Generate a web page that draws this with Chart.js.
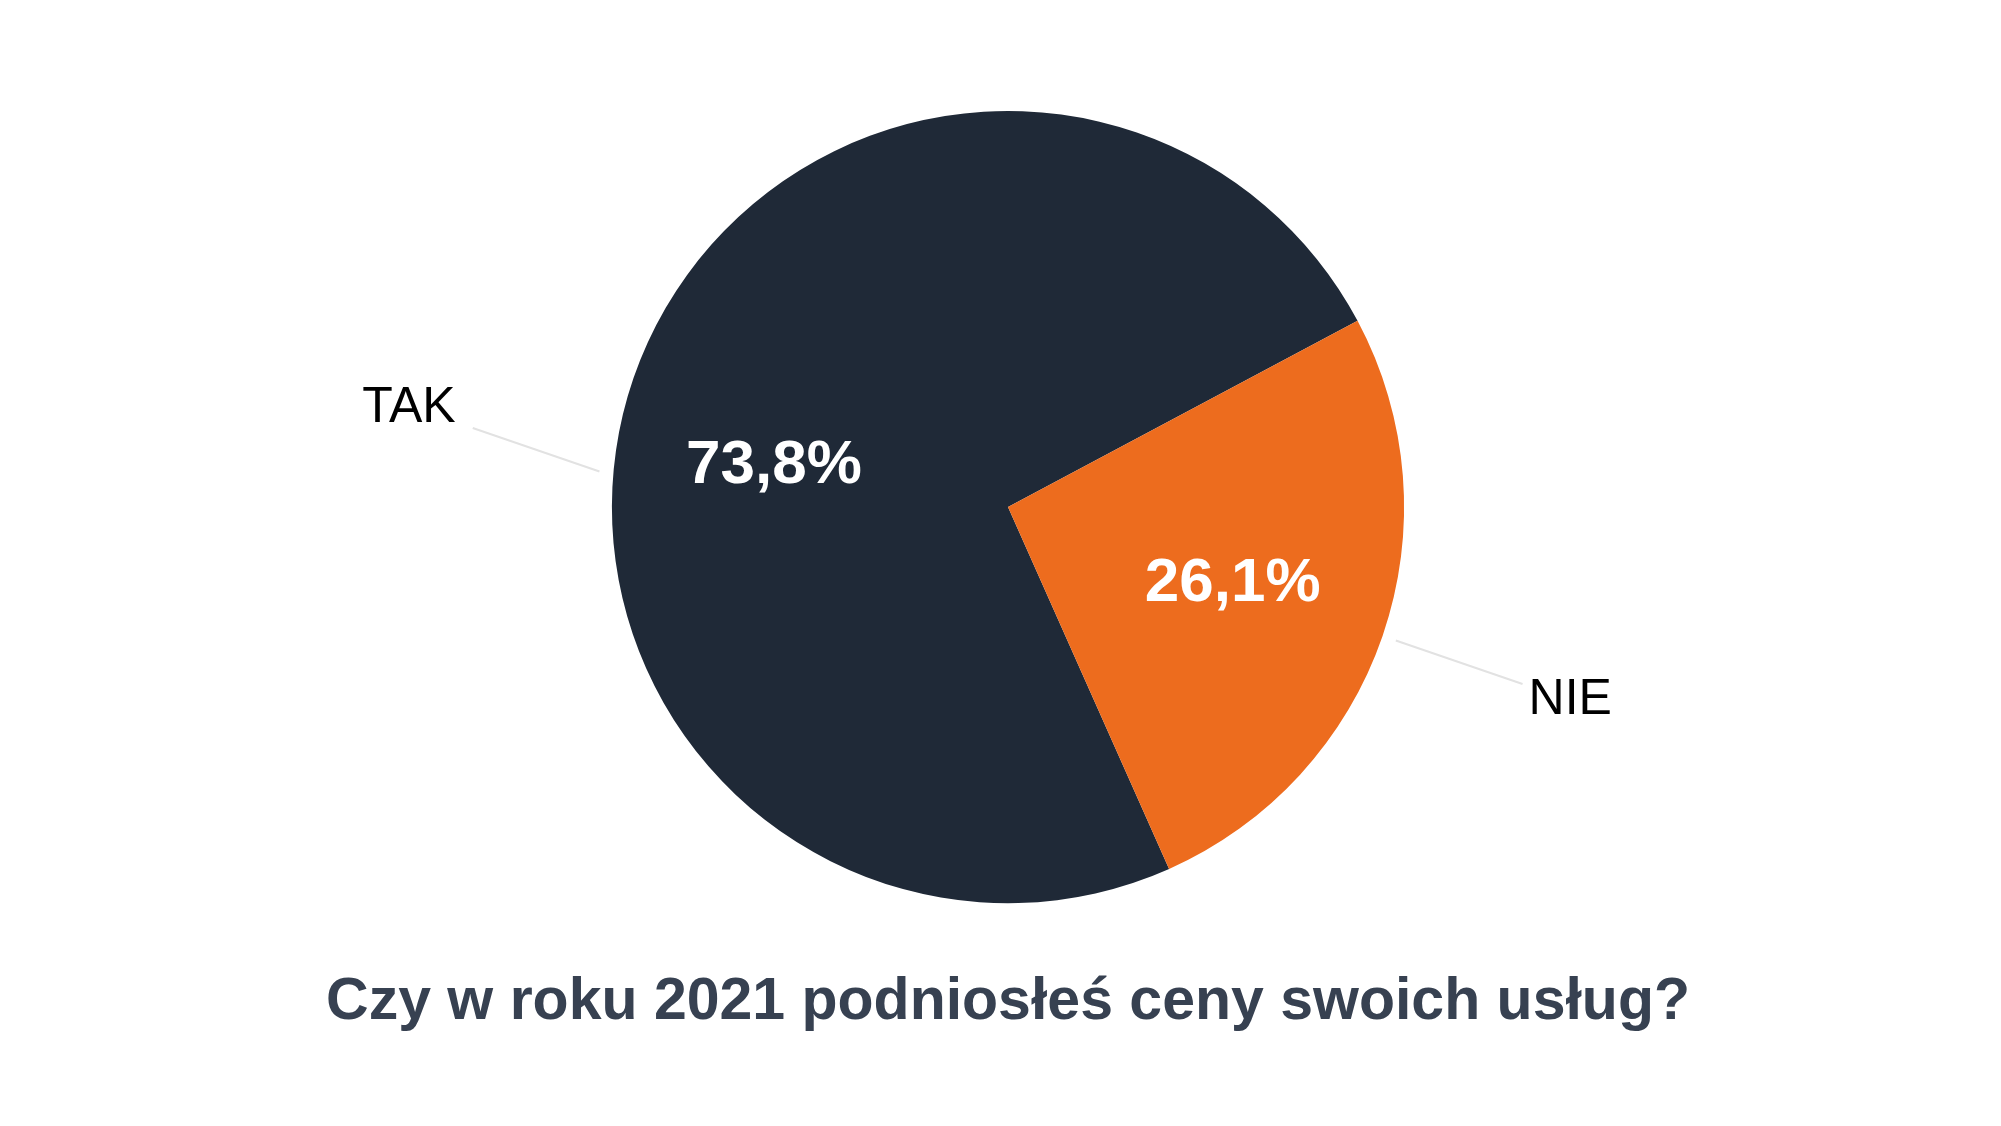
<!DOCTYPE html>
<html>
<head>
<meta charset="utf-8">
<script src="https://cdn.jsdelivr.net/npm/chart.js@4/dist/chart.umd.min.js"></script>
<style>
  html, body { margin: 0; padding: 0; background: #fff; }
  #wrap { width: 2001px; height: 1126px; }
</style>
</head>
<body>
<div id="wrap"><canvas id="pie"></canvas></div>
<script>
// answers and their share (%)
const answers = ["TAK", "NIE"];
const shares = [73.8, 26.1];
const sliceColors = ["#1f2937", "#ed6c1e"];
const chartTitle = "Czy w roku 2021 podniosłeś ceny swoich usług?";

// percent inside the slice + category name outside with a grey leader line
const sliceLabels = {
  id: "sliceLabels",
  afterDatasetsDraw(chart, args, opts) {
    const ctx = chart.ctx;
    const meta = chart.getDatasetMeta(0);
    meta.data.forEach((arc, i) => {
      const { x, y, startAngle, endAngle, outerRadius } = arc.getProps(
        ["x", "y", "startAngle", "endAngle", "outerRadius"], true);
      const mid = (startAngle + endAngle) / 2;
      const deg = Math.PI / 180;

      // value label
      const rIn = outerRadius * 0.6;
      const aIn = mid + (opts.innerShift[i] || 0) * deg;
      ctx.save();
      ctx.fillStyle = "#ffffff";
      ctx.font = "bold 62px 'Liberation Sans', Arial, sans-serif";
      ctx.textAlign = "center";
      ctx.textBaseline = "middle";
      const txt = chart.data.datasets[0].data[i].toFixed(1).replace(".", ",") + "%";
      ctx.fillText(txt, x + Math.cos(aIn) * rIn, y + Math.sin(aIn) * rIn);

      // leader line
      const a0 = mid + (opts.shift[i] || 0) * deg;
      const sx = x + Math.cos(a0) * (outerRadius + 14);
      const sy = y + Math.sin(a0) * (outerRadius + 14);
      const ex = sx + Math.cos(mid) * 134;
      const ey = sy + Math.sin(mid) * 134;
      ctx.strokeStyle = "#e2e2e2";
      ctx.lineWidth = 2;
      ctx.beginPath();
      ctx.moveTo(sx, sy);
      ctx.lineTo(ex, ey);
      ctx.stroke();

      // category name
      const right = Math.cos(mid) >= 0;
      ctx.fillStyle = "#000000";
      ctx.font = "50px 'Liberation Sans', Arial, sans-serif";
      ctx.textAlign = right ? "left" : "right";
      ctx.fillText(chart.data.labels[i], ex + (right ? 6 : -17), ey + (right ? 16 : -20));
      ctx.restore();
    });
  },
};

const ctx = document.getElementById("pie");
new Chart(ctx, {
  type: "pie",
  data: {
    labels: answers,
    datasets: [
      {
        data: shares,
        backgroundColor: sliceColors,
        borderWidth: 0,
        hoverOffset: 0,
      },
    ],
  },
  options: {
    responsive: true,
    maintainAspectRatio: false,
    animation: false,
    rotation: 156,
    layout: {
      padding: { top: 111, bottom: 88, left: 15, right: 0 },
    },
    plugins: {
      legend: { display: false },
      tooltip: { enabled: false },
      title: {
        display: true,
        position: "bottom",
        text: chartTitle,
        color: "#374151",
        font: { family: "'Liberation Sans', Arial, sans-serif", size: 59, weight: "bold", lineHeight: 1.2 },
        padding: { top: 64, bottom: 0 },
      },
      sliceLabels: { shift: [-14, 0], innerShift: [-9, 0] },
    },
  },
  plugins: [sliceLabels],
});
</script>
</body>
</html>
